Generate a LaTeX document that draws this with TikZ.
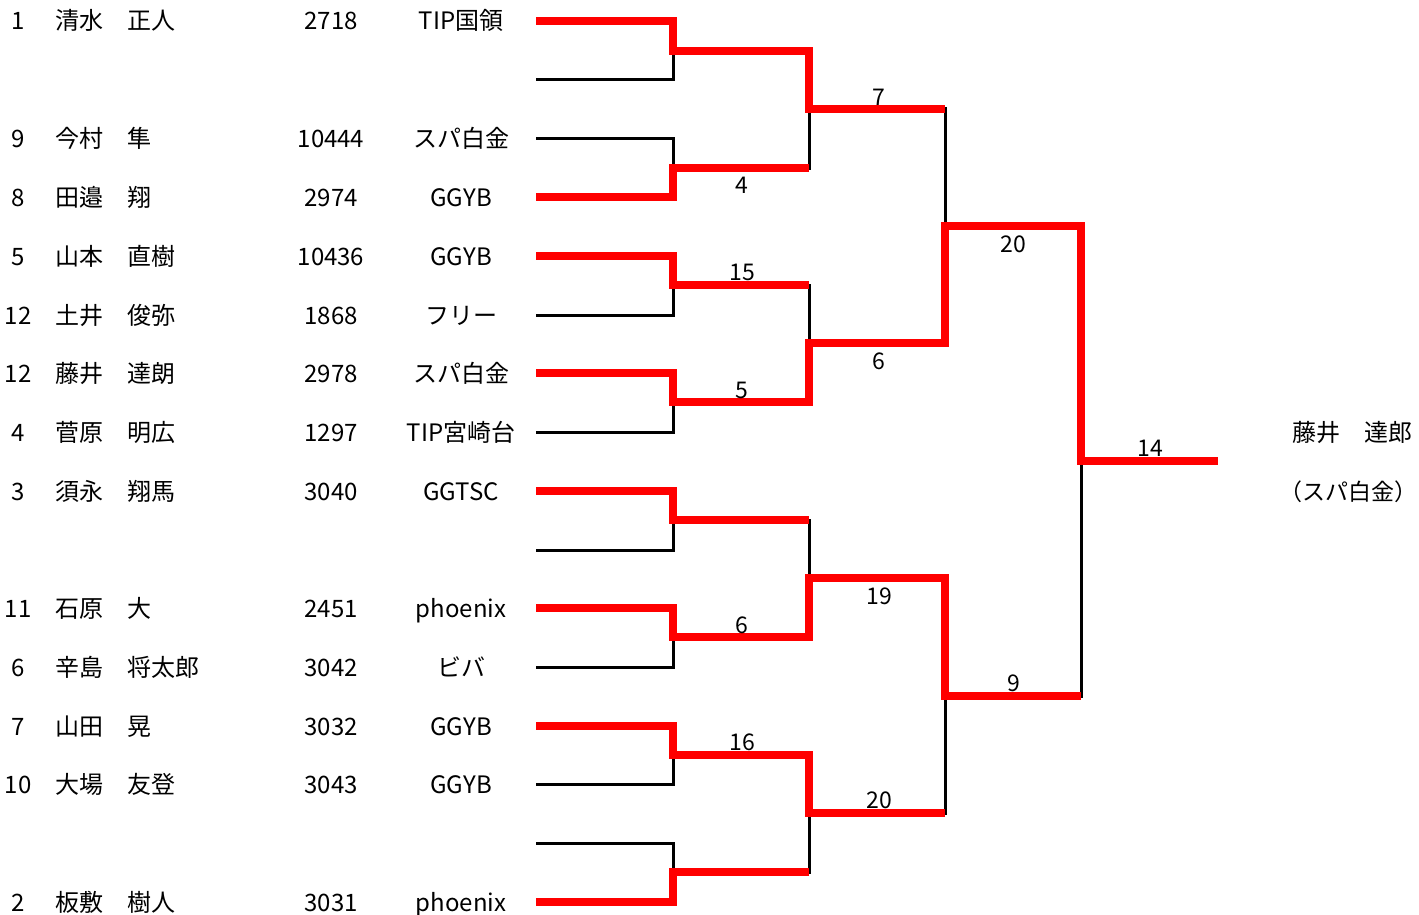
\documentclass[tikz,border=0pt]{standalone}
\usepackage{fontspec}
\setmainfont{Noto Sans CJK JP}

\begin{document}
\begin{tikzpicture}[
  x = 1pt, y = -1pt,
  entry/.style={inner sep=0pt, text height=18pt, text depth=0pt, font=\fontsize{24}{28}\selectfont},
  score/.style={inner sep=0pt, text height=17pt, text depth=0pt, font=\fontsize{23}{27}\selectfont},
  loser/.style={line width=3pt, black, line join=miter},
  winner/.style={line width=8pt, red, line join=miter}
]
\useasboundingbox (0,0) rectangle (1419,915);

%general params
\def\xa{536}  %first column of the bracket
\def\xb{673}
\def\xc{809}
\def\xd{945}
\def\xe{1081}
\def\xf{1218} %end of the final line

%entries (rows 2, 10 and 15 are byes)
\foreach \i/\y/\seed/\name/\rate/\club in {
    1/21/1/清水　正人/2718/TIP国領,
    3/139/9/今村　隼/10444/スパ白金,
    4/197/8/田邉　翔/2974/GGYB,
    5/256/5/山本　直樹/10436/GGYB,
    6/315/12/土井　俊弥/1868/フリー,
    7/373/12/藤井　達朗/2978/スパ白金,
    8/432/4/菅原　明広/1297/TIP宮崎台,
    9/491/3/須永　翔馬/3040/GGTSC,
    11/608/11/石原　大/2451/phoenix,
    12/667/6/辛島　将太郎/3042/ビバ,
    13/726/7/山田　晃/3032/GGYB,
    14/784/10/大場　友登/3043/GGYB,
    16/902/2/板敷　樹人/3031/phoenix}{
  \node[entry] (seed\i) at (18,\y) {\seed};
  \node[entry, anchor=west] (name\i) at (55,\y) {\name};
  \node[entry] (rate\i) at (331,\y) {\rate};
  \node[entry] (club\i) at (461,\y) {\club};
}

%bracket, round 1
\foreach \ya/\yb in {21/80, 139/197, 256/315, 373/432, 491/550, 608/667, 726/784, 843/902}
  \draw[loser] (\xa,\ya) -| (\xb,\yb) -- (\xa,\yb);
%round 2
\foreach \ya/\yb in {51/168, 285/402, 520/637, 755/872}
  \draw[loser] (\xb,\ya) -| (\xc,\yb) -- (\xb,\yb);
%round 3
\foreach \ya/\yb in {109/343, 578/813}
  \draw[loser] (\xc,\ya) -| (\xd,\yb) -- (\xc,\yb);
%final
\draw[loser] (\xd,226) -| (\xe,696) -- (\xd,696);

%winners
\draw[winner] (\xa,21) -| (\xb,51) -| (\xc,109) -- (\xd,109);
\draw[winner] (\xa,197) -| (\xb,168) -- (\xc,168);
\draw[winner] (\xa,256) -| (\xb,285) -- (\xc,285);
\draw[winner] (\xa,373) -| (\xb,402) -| (\xc,343) -| (\xd,226) -| (\xe,461) -- (\xf,461);
\draw[winner] (\xa,491) -| (\xb,520) -- (\xc,520);
\draw[winner] (\xa,608) -| (\xb,637) -| (\xc,578) -| (\xd,696) -- (\xe,696);
\draw[winner] (\xa,726) -| (\xb,755) -| (\xc,813) -- (\xd,813);
\draw[winner] (\xa,902) -| (\xb,872) -- (\xc,872);

%scores
\node[score] (sc7)  at (879,97)   {7};
\node[score] (sc4)  at (742,185)  {4};
\node[score] (sc15) at (742,272)  {15};
\node[score] (sc5)  at (742,390)  {5};
\node[score] (sc6)  at (879,361)  {6};
\node[score] (sc20) at (1013,244) {20};
\node[score] (sc14) at (1150,448) {14};
\node[score] (sc6b) at (742,625)  {6};
\node[score] (sc19) at (879,596)  {19};
\node[score] (sc16) at (742,742)  {16};
\node[score] (sc20b) at (879,800) {20};
\node[score] (sc9)  at (1014,683) {9};

%champion
\node[entry, anchor=west] (champ) at (1292,432) {藤井　達郎};
\node[entry, anchor=east, font=\fontsize{23}{27}\selectfont] (champclub) at (1418,491) {（スパ白金）};

\end{tikzpicture}
\end{document}
